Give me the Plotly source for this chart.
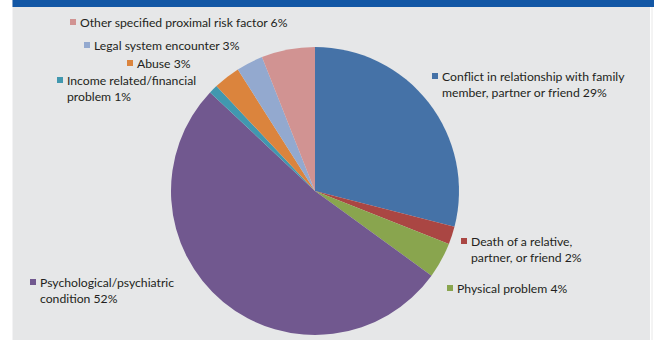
import plotly.graph_objects as go

W, H = 654, 340

causas = [
    "Conflict in relationship with family member, partner or friend",
    "Death of a relative, partner, or friend",
    "Physical problem",
    "Psychological/psychiatric condition",
    "Income related/financial problem",
    "Abuse",
    "Legal system encounter",
    "Other specified proximal risk factor",
]
percentuais = [29, 2, 4, 52, 1, 3, 3, 6]
cores = ["#4572A7", "#AA4643", "#89A54E", "#71588F", "#4198AF", "#DB843D", "#93A9CF", "#D19392"]

# texto dos rótulos (quebras de linha como no original)
rotulos = [
    "Conflict in relationship with family<br>member, partner or friend 29%",
    "Death of a relative,<br>partner, or friend 2%",
    "Physical problem 4%",
    "Psychological/psychiatric<br>condition 52%",
    "Income related/financial<br>problem 1%",
    "Abuse 3%",
    "Legal system encounter 3%",
    "Other specified proximal risk factor 6%",
]
# posição (px) do quadradinho de cada rótulo
pos_rotulos = [(435, 76), (464, 241), (450, 288), (33, 282), (60, 80), (130, 63), (87, 45), (73, 22)]


def px(x):
    return x / W


def py(y):
    return 1 - y / H


cx, cy, r = 315, 191, 144

fig = go.Figure(go.Pie(
    labels=causas,
    values=percentuais,
    sort=False,
    direction="clockwise",
    rotation=0,
    marker=dict(colors=cores, line=dict(width=0)),
    textinfo="none",
    hoverinfo="label+percent",
    domain=dict(x=[px(cx - r), px(cx + r)], y=[py(cy + r), py(cy - r)]),
    showlegend=False,
))

shapes = [
    dict(type="rect", xref="paper", yref="paper", x0=0, x1=px(12.5), y0=0, y1=1,
         fillcolor="white", line=dict(width=0)),
    dict(type="rect", xref="paper", yref="paper", x0=px(650), x1=1, y0=0, y1=1,
         fillcolor="white", line=dict(width=0)),
    dict(type="line", xref="paper", yref="paper", x0=px(652), x1=px(652), y0=0, y1=py(7),
         line=dict(color="#e8e8e8", width=1)),
    dict(type="rect", xref="paper", yref="paper", x0=px(12.5), x1=1, y0=py(7), y1=1,
         fillcolor="#1257A5", line=dict(width=0)),
]
annotations = []
for texto, cor, (x, y) in zip(rotulos, cores, pos_rotulos):
    shapes.append(dict(type="rect", xref="paper", yref="paper",
                       x0=px(x - 3), x1=px(x + 3), y0=py(y + 3), y1=py(y - 3),
                       fillcolor=cor, line=dict(width=0)))
    annotations.append(dict(x=px(x + 5), y=py(y - 9), xref="paper", yref="paper",
                            text=texto, showarrow=False, xanchor="left", yanchor="top",
                            align="left", font=dict(size=12.2, color="#231F20")))

fig.update_layout(
    width=W, height=H,
    margin=dict(t=0, l=0, r=0, b=0),
    paper_bgcolor="#E6E7E8",
    plot_bgcolor="#E6E7E8",
    font=dict(family="Lato, Open Sans, sans-serif"),
    shapes=shapes,
    annotations=annotations,
)

fig.write_html("out.html", config={"displayModeBar": False},
               post_script="document.body.style.margin='0';")
